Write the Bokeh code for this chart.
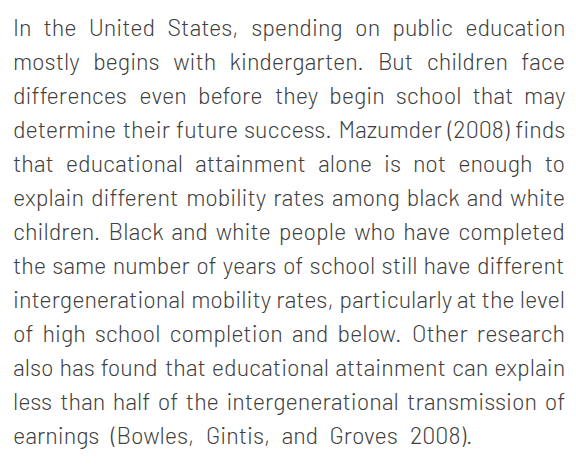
import glob, os, struct
from bokeh.plotting import figure
from bokeh.embed import file_html
from bokeh.resources import INLINE
from bokeh.core.properties import value
from bokeh.models import Range1d, ColumnDataSource

# ---- content (the paragraph, line by line as set in the reference) ----
paragraph_lines = [
    "In the United States, spending on public education",
    "mostly begins with kindergarten. But children face",
    "differences even before they begin school that may",
    "determine their future success. Mazumder (2008) finds",
    "that educational attainment alone is not enough to",
    "explain different mobility rates among black and white",
    "children. Black and white people who have completed",
    "the same number of years of school still have different",
    "intergenerational mobility rates, particularly at the level",
    "of high school completion and below. Other research",
    "also has found that educational attainment can explain",
    "less than half of the intergenerational transmission of",
    "earnings (Bowles, Gintis, and Groves 2008).",
]
justified = [True] * 12 + [False]

# ---- layout / style ----
W, H = 576, 454
LEFT, RIGHT = 12.5, 565.0
LAST_LINE_RIGHT = 472.0
FIRST_BASELINE, LINE_STEP = 26.5, 34.04
TARGET_XH = 12.3
MIN_GAP_EM = 0.21
TEXT_COLOR = "#404040"
FONT_CHOICES = [
    ("Barlow Light", "Barlow-Light.ttf"),
    ("Lato Light", "Lato-Light.ttf"),
]

allf = []
for d in ["/usr/share/fonts", "/usr/local/share/fonts"]:
    allf += glob.glob(d + "/**/*", recursive=True)


def find(name):
    for f in allf:
        if os.path.basename(f) == name:
            return f
    return None


def load_font(path):
    data = open(path, "rb").read()
    off = 0
    if data[:4] == b"ttcf":
        off = struct.unpack(">I", data[12:16])[0]
    num = struct.unpack(">H", data[off + 4:off + 6])[0]
    tables = {}
    for i in range(num):
        rec = off + 12 + 16 * i
        tag = data[rec:rec + 4].decode("latin1")
        o, l = struct.unpack(">II", data[rec + 8:rec + 16])
        tables[tag] = (o, l)
    upem = struct.unpack(">H", data[tables["head"][0] + 18:tables["head"][0] + 20])[0]
    nhm = struct.unpack(">H", data[tables["hhea"][0] + 34:tables["hhea"][0] + 36])[0]
    ho = tables["hmtx"][0]
    adv = [struct.unpack(">H", data[ho + 4 * i:ho + 4 * i + 2])[0] for i in range(nhm)]
    xh = 0.5 * upem
    if "OS/2" in tables:
        oo = tables["OS/2"][0]
        ver = struct.unpack(">H", data[oo:oo + 2])[0]
        if ver >= 2:
            xh = struct.unpack(">h", data[oo + 86:oo + 88])[0] or xh
    co = tables["cmap"][0]
    nt = struct.unpack(">H", data[co + 2:co + 4])[0]
    sub = None
    for i in range(nt):
        pid, eid, so = struct.unpack(">HHI", data[co + 4 + 8 * i:co + 12 + 8 * i])
        fmt = struct.unpack(">H", data[co + so:co + so + 2])[0]
        if fmt == 4 and (sub is None or (pid == 3 and eid == 1)):
            sub = co + so
    segx2 = struct.unpack(">H", data[sub + 6:sub + 8])[0]
    seg = segx2 // 2
    ends = struct.unpack(">%dH" % seg, data[sub + 14:sub + 14 + segx2])
    starts = struct.unpack(">%dH" % seg, data[sub + 16 + segx2:sub + 16 + 2 * segx2])
    deltas = struct.unpack(">%dh" % seg, data[sub + 16 + 2 * segx2:sub + 16 + 3 * segx2])
    rpos = sub + 16 + 3 * segx2
    ranges = struct.unpack(">%dH" % seg, data[rpos:rpos + segx2])

    def gid(c):
        for i in range(seg):
            if ends[i] >= c:
                if starts[i] > c:
                    return 0
                if ranges[i] == 0:
                    return (c + deltas[i]) & 0xFFFF
                a = rpos + 2 * i + ranges[i] + 2 * (c - starts[i])
                g = struct.unpack(">H", data[a:a + 2])[0]
                return (g + deltas[i]) & 0xFFFF if g else 0
        return 0

    def width(s, size):
        t = 0
        for ch in s:
            g = gid(ord(ch))
            t += adv[g] if g < len(adv) else adv[-1]
        return t * size / upem

    return width, xh / upem


family, measure, xh_ratio = "Lato", None, 0.5
for fam, fn in FONT_CHOICES:
    path = find(fn)
    if path:
        try:
            measure, xh_ratio = load_font(path)
            family = fam
            break
        except Exception:
            measure = None

if measure is None:
    measure = lambda s, size: 0.45 * size * len(s)

fs = TARGET_XH / xh_ratio
# keep every justified line able to fit with a minimum word gap
for ln, j in zip(paragraph_lines, justified):
    if not j:
        continue
    words = ln.split(" ")
    need = sum(measure(w, 1.0) for w in words) + MIN_GAP_EM * (len(words) - 1)
    fs = min(fs, (RIGHT - LEFT) / need)
fs = round(fs, 2)

xs, ys, texts = [], [], []
for i, (ln, j) in enumerate(zip(paragraph_lines, justified)):
    y = FIRST_BASELINE + i * LINE_STEP
    words = ln.split(" ")
    ws = [measure(w, fs) for w in words]
    right = RIGHT if j else LAST_LINE_RIGHT
    gap = (right - LEFT - sum(ws)) / max(len(words) - 1, 1)
    gap = max(gap, MIN_GAP_EM * fs)
    x = LEFT
    for w, wd in zip(words, ws):
        xs.append(x)
        ys.append(y)
        texts.append(w)
        x += wd + gap

src = ColumnDataSource(dict(x=xs, y=ys, text=texts))

p = figure(width=W, height=H, output_backend="svg", toolbar_location=None,
           x_range=Range1d(0, W), y_range=Range1d(H, 0), min_border=0,
           background_fill_color="white", border_fill_color="white")
p.outline_line_color = None
p.axis.visible = False
p.grid.visible = False
p.text(x="x", y="y", text="text", source=src, text_font=value(family),
       text_font_size="%spx" % fs, text_color=TEXT_COLOR, text_baseline="alphabetic",
       text_align="left")

open("out.html", "w").write(file_html(p, INLINE))
